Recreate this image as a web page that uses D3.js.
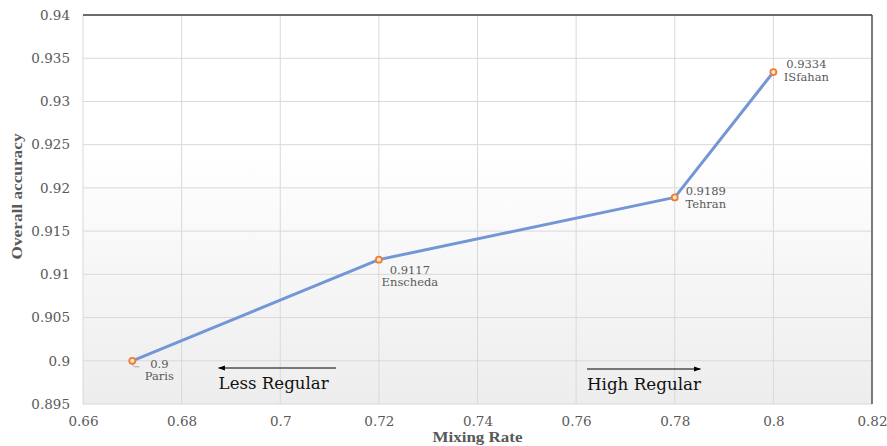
<!DOCTYPE html>
<html>
<head>
<meta charset="utf-8">
<script src="https://cdn.jsdelivr.net/npm/d3@7/dist/d3.min.js"></script>
<style>
  html, body { margin: 0; padding: 0; background: #ffffff; }
  svg { display: block; }
</style>
</head>
<body>
<svg id="chart" width="887" height="446"></svg>
<script>
// Mixing rate vs. overall accuracy per city
const mixingRate = [0.67, 0.72, 0.78, 0.8];
const accuracy = [0.9, 0.9117, 0.9189, 0.9334];
const cities = ["Paris", "Enscheda", "Tehran", "ISfahan"];
const xTicks = [0.66, 0.68, 0.7, 0.72, 0.74, 0.76, 0.78, 0.8, 0.82];
const yTicks = [0.895, 0.9, 0.905, 0.91, 0.915, 0.92, 0.925, 0.93, 0.935, 0.94];

const W = 887, H = 446;
const m = { left: 83, right: 15, top: 15, bottom: 42 };
const svg = d3.select("#chart");
const serif = "'DejaVu Serif', 'Liberation Serif', serif";

const x = d3.scaleLinear().domain([0.66, 0.82]).range([m.left, W - m.right]);
const y = d3.scaleLinear().domain([0.895, 0.94]).range([H - m.bottom, m.top]);

// plot background gradient
const defs = svg.append("defs");
const grad = defs.append("linearGradient").attr("id", "bg")
  .attr("x1", 0).attr("y1", 0).attr("x2", 0).attr("y2", 1);
grad.append("stop").attr("offset", "0%").attr("stop-color", "#ffffff");
grad.append("stop").attr("offset", "35%").attr("stop-color", "#ffffff");
grad.append("stop").attr("offset", "100%").attr("stop-color", "#ededed");

defs.append("marker").attr("id", "arrow")
  .attr("viewBox", "0 0 10 10").attr("refX", 9).attr("refY", 5)
  .attr("markerWidth", 7).attr("markerHeight", 7).attr("orient", "auto-start-reverse")
  .attr("markerUnits", "userSpaceOnUse")
  .append("path").attr("d", "M0,1.5 L10,5 L0,8.5 Z").attr("fill", "#000");

svg.append("rect")
  .attr("x", x(0.66)).attr("y", y(0.94))
  .attr("width", x(0.82) - x(0.66)).attr("height", y(0.895) - y(0.94))
  .attr("fill", "url(#bg)");

// gridlines
svg.append("g").selectAll("line").data(xTicks).join("line")
  .attr("x1", d => x(d)).attr("x2", d => x(d))
  .attr("y1", y(0.94)).attr("y2", y(0.895))
  .attr("stroke", "#d9d9d9").attr("stroke-width", 1);
svg.append("g").selectAll("line").data(yTicks).join("line")
  .attr("x1", x(0.66)).attr("x2", x(0.82))
  .attr("y1", d => y(d)).attr("y2", d => y(d))
  .attr("stroke", "#d9d9d9").attr("stroke-width", 1);

// frame: dark top and right edges
svg.append("line").attr("x1", x(0.66)).attr("x2", x(0.82))
  .attr("y1", y(0.94)).attr("y2", y(0.94)).attr("stroke", "#404040").attr("stroke-width", 1.3);
svg.append("line").attr("x1", x(0.82)).attr("x2", x(0.82))
  .attr("y1", y(0.94)).attr("y2", y(0.895)).attr("stroke", "#404040").attr("stroke-width", 1.3);

// axes tick labels
const xAxis = d3.axisBottom(x).tickValues(xTicks).tickSize(0).tickPadding(12)
  .tickFormat(d => d3.format("")(+d.toFixed(2)));
const gx = svg.append("g").attr("transform", `translate(0,${y(0.895)})`).call(xAxis);
gx.select(".domain").remove();
gx.selectAll("text").attr("font-family", serif).attr("font-size", 13.5).attr("fill", "#595959");

const yAxis = d3.axisLeft(y).tickValues(yTicks).tickSize(0).tickPadding(13)
  .tickFormat(d => d3.format("")(+d.toFixed(3)));
const gy = svg.append("g").attr("transform", `translate(${x(0.66)},0)`).call(yAxis);
gy.select(".domain").remove();
gy.selectAll("text").attr("font-family", serif).attr("font-size", 13.5).attr("fill", "#595959");

// axis titles
svg.append("text").attr("x", (x(0.66) + x(0.82)) / 2).attr("y", 442)
  .attr("text-anchor", "middle").attr("font-family", "'Liberation Serif', serif")
  .attr("font-weight", "bold").attr("font-size", 15).attr("fill", "#595959")
  .attr("textLength", 90).attr("lengthAdjust", "spacingAndGlyphs")
  .text("Mixing Rate");
svg.append("text").attr("transform", `translate(22,${(y(0.94) + y(0.895)) / 2 - 13}) rotate(-90)`)
  .attr("text-anchor", "middle").attr("font-family", "'Liberation Serif', serif")
  .attr("font-weight", "bold").attr("font-size", 15).attr("fill", "#595959")
  .attr("textLength", 126).attr("lengthAdjust", "spacingAndGlyphs")
  .text("Overall accuracy");

// series line
const pts = mixingRate.map((r, i) => ({ r, a: accuracy[i], c: cities[i] }));
svg.append("path").datum(pts)
  .attr("d", d3.line().x(d => x(d.r)).y(d => y(d.a)))
  .attr("fill", "none").attr("stroke", "#7397d6").attr("stroke-width", 3)
  .attr("stroke-linejoin", "round");

// leader from Paris point to its label
svg.append("path")
  .attr("d", `M${x(0.67) - 1},${y(0.9) + 3} L${x(0.67) + 2},${y(0.9) + 6} L${x(0.67) + 7},${y(0.9) + 6}`)
  .attr("fill", "none").attr("stroke", "#a6a6a6").attr("stroke-width", 1);

// markers
svg.append("g").selectAll("circle").data(pts).join("circle")
  .attr("cx", d => x(d.r)).attr("cy", d => y(d.a)).attr("r", 3)
  .attr("fill", "#fbe3d3").attr("stroke", "#ed7d31").attr("stroke-width", 1.8);

// data labels (value above city name), offset from each point
const labelOffsets = [[27, 7], [31, 14], [31, -2], [33, -4]];
const lab = svg.append("g").selectAll("text").data(pts).join("text")
  .attr("font-family", serif).attr("font-size", 11.5).attr("fill", "#595959")
  .attr("text-anchor", "middle")
  .attr("transform", (d, i) => `translate(${x(d.r) + labelOffsets[i][0]},${y(d.a) + labelOffsets[i][1]})`);
lab.append("tspan").attr("x", 0).attr("y", 0).text(d => d3.format("")(d.a));
lab.append("tspan").attr("x", 0).attr("y", 12.5).text(d => d.c);

// regime annotations
svg.append("line").attr("x1", x(0.7113)).attr("x2", x(0.6875)).attr("y1", 368).attr("y2", 368)
  .attr("stroke", "#000").attr("stroke-width", 1).attr("marker-end", "url(#arrow)");
svg.append("text").attr("x", x(0.6875)).attr("y", 389)
  .attr("font-family", serif).attr("font-size", 17).attr("fill", "#111")
  .attr("textLength", 110).attr("lengthAdjust", "spacingAndGlyphs")
  .text("Less Regular");
svg.append("line").attr("x1", x(0.7622)).attr("x2", x(0.7852)).attr("y1", 369).attr("y2", 369)
  .attr("stroke", "#000").attr("stroke-width", 1).attr("marker-end", "url(#arrow)");
svg.append("text").attr("x", x(0.7622)).attr("y", 390)
  .attr("font-family", serif).attr("font-size", 17).attr("fill", "#111")
  .attr("textLength", 114).attr("lengthAdjust", "spacingAndGlyphs")
  .text("High Regular");
</script>
</body>
</html>
